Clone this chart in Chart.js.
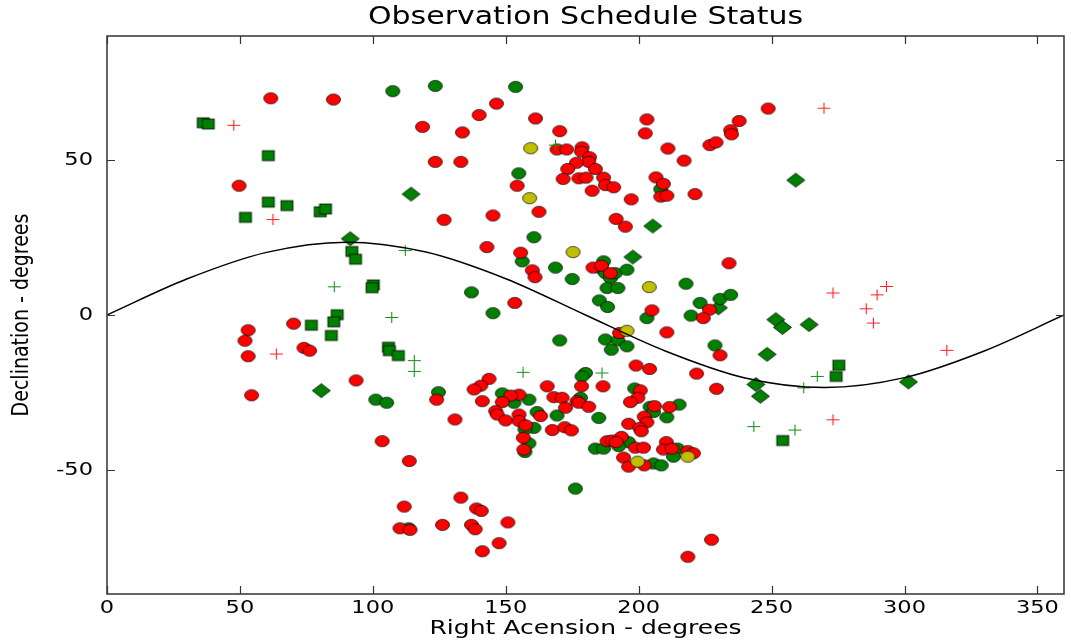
<!DOCTYPE html>
<html>
<head>
<meta charset="utf-8">
<script src="https://cdn.jsdelivr.net/npm/chart.js@4/dist/chart.umd.min.js"></script>
<style>
  body { margin: 0; background: #fff; }
  canvas { display: block; }
</style>
</head>
<body>
<canvas id="skyChart" width="1071" height="644"></canvas>
<script>
// Values: [right ascension, declination] in degrees
const redCircles = [
  [61.6,69.9],[85.2,69.5],[118.7,60.7],[49.7,41.7],
  [140.0,64.5],[146.5,68.2],[133.7,58.9],[123.5,49.4],[133.1,49.4],[161.2,63.4],[170.3,59.3],
  [154.3,41.7],[162.5,33.3],[145.2,32.1],[126.8,30.7],[191.5,31.0],[195.0,28.5],[203.1,63.1],
  [202.5,58.6],[211.0,53.7],[217.1,49.8],[221.2,39.0],[206.5,44.4],[209.3,42.3],[208.3,38.2],
  [210.6,38.5],[197.2,37.3],[226.8,54.8],[229.1,55.7],[234.6,59.6],[234.9,58.3],[237.8,62.6],
  [248.7,66.6],
  [169.3,53.4],[172.9,53.4],[178.7,54.1],[178.5,52.7],[181.5,50.9],[181.2,49.4],[176.6,49.1],
  [173.3,47.1],[183.7,47.1],[171.6,43.9],[177.5,44.1],[180.2,44.3],[186.8,44.3],[187.5,41.9],
  [190.6,41.2],[182.5,40.1],
  [142.9,21.9],[155.6,20.1],[160.0,14.4],[161.0,12.2],[182.8,15.3],[186.0,15.9],[189.4,13.5],
  [234.0,16.7],[153.4,3.9],[205.0,1.5],[226.6,1.7],[224.3,-1.0],[210.6,-5.6],[192.8,-5.8],
  [230.6,-13.0],
  [70.2,-2.8],[53.1,-4.9],[51.9,-8.3],[53.1,-13.3],[74.1,-10.6],[76.2,-11.5],[93.7,-21.1],
  [54.4,-25.9],
  [124.0,-27.3],[143.7,-20.6],[140.6,-22.8],[138.1,-24.0],[141.2,-27.8],[155.0,-25.7],[151.9,-26.0],
  [148.7,-28.1],[146.2,-31.0],[146.8,-32.1],[150.0,-34.0],[155.0,-32.1],[155.0,-34.2],[157.5,-35.6],
  [163.1,-32.6],[156.6,-39.6],[156.8,-43.4],[130.9,-33.7],[165.6,-23.0],[168.1,-26.5],[171.2,-26.7],
  [172.5,-29.9],[167.5,-37.1],[172.2,-36.2],[174.7,-37.2],[178.5,-23.0],[186.6,-23.0],[176.8,-27.8],
  [177.5,-28.3],[181.2,-29.6],[188.1,-40.7],
  [199.0,-16.3],[204.1,-17.4],[221.8,-18.9],[229.3,-23.8],[200.6,-24.3],[199.7,-26.7],[196.9,-28.1],
  [206.0,-29.4],[211.6,-29.7],[202.1,-32.8],[203.1,-34.6],[196.2,-35.1],[200.4,-36.4],[201.0,-37.5],
  [193.5,-39.3],[190.0,-40.5],[191.5,-41.0],[198.7,-42.8],[201.8,-42.8],[194.3,-46.0],[196.2,-48.9],
  [202.1,-48.5],[210.4,-41.0],[209.3,-43.4],[212.5,-43.1],[218.5,-43.9],[220.6,-44.6],
  [133.1,-58.9],[139.0,-62.4],[140.8,-63.2],[126.2,-67.7],[137.1,-67.7],[138.5,-69.1],[150.8,-66.9],
  [147.5,-73.6],[141.2,-76.2],[227.4,-72.5],[218.5,-78.0],[103.5,-40.7],[113.7,-47.1],[111.8,-61.8],
  [110.2,-68.8],[114.0,-69.3]
];

const greenCircles = [
  [107.5,72.2],[123.5,73.9],[153.7,73.6],[154.9,45.7],[208.3,40.6],[101.1,-27.3],[105.2,-28.3],
  [160.6,25.1],[156.2,17.3],[168.7,15.3],[175.0,11.6],[137.1,7.3],[145.2,0.6],[186.8,17.3],
  [185.6,15.1],[187.5,13.5],[189.4,11.9],[191.2,13.5],[195.6,14.6],[188.1,8.7],[192.2,8.7],
  [185.2,4.7],[188.3,2.6],[217.8,10.1],[223.1,3.9],[230.6,5.2],[234.6,6.5],[219.7,-0.2],
  [203.1,-1.0],[170.3,-8.2],[187.5,-7.9],[192.2,-8.2],[189.7,-11.2],[195.6,-10.1],[228.7,-9.8],
  [124.7,-24.9],[148.7,-25.3],[153.1,-28.3],[158.7,-27.3],[160.6,-36.4],[161.8,-31.3],[157.2,-36.9],
  [158.7,-41.4],[157.2,-44.2],[169.3,-32.4],[180.0,-18.7],[178.7,-19.8],[178.1,-26.7],[185.0,-33.2],
  [183.7,-43.1],[186.8,-43.1],[198.5,-23.7],[204.3,-29.6],[205.6,-31.3],[215.2,-28.9],[210.6,-33.0],
  [196.2,-41.0],[192.5,-42.3],[205.6,-47.9],[208.5,-48.5],[214.7,-43.1],[213.1,-45.7],[176.2,-56.0],
  [113.5,-68.8]
];

const yellowCircles = [
  [159.4,53.8],[159.0,37.7],[175.3,20.3],[204.0,9.0],[195.6,-5.1],[199.6,-47.3],[218.5,-45.7]
];

const greenSquares = [
  [36.2,62.0],[38.1,61.6],[60.7,51.4],[52.1,31.5],[60.7,36.4],[67.7,35.3],[80.2,33.3],[82.2,34.2],
  [92.1,20.5],[93.5,18.0],[100.2,9.7],[99.7,8.8],[86.6,0.1],[85.3,-2.2],[76.9,-3.3],[84.4,-6.6],
  [105.9,-10.4],[106.2,-11.5],[109.6,-13.1],[275.3,-16.2],[274.3,-19.8],[254.2,-40.5]
];

const greenDiamonds = [
  [114.4,39.0],[205.3,28.7],[259.1,43.5],[91.5,24.6],[80.6,-24.4],[197.8,18.7],[230.0,2.3],
  [251.6,-1.5],[254.1,-4.0],[264.1,-3.1],[248.3,-12.7],[244.1,-22.4],[245.8,-26.2],[301.5,-21.6]
];

const redPlus = [
  [47.7,61.2],[62.4,30.8],[269.7,66.7],[63.7,-12.6],[273.1,7.1],[293.2,9.2],[289.7,6.5],
  [285.6,2.0],[288.3,-2.6],[315.9,-11.4],[273.1,-33.8]
];

const greenPlus = [
  [168.7,54.8],[112.2,20.8],[85.5,9.1],[107.1,-0.8],[115.6,-14.7],[115.6,-18.2],[156.5,-18.5],
  [186.2,-18.7],[267.2,-19.8],[262.1,-23.5],[243.3,-36.0],[258.8,-37.1]
];

// ecliptic curve, read every 30 degrees
const eclipticRA  = [0, 30, 60, 90, 120, 150, 180, 210, 240, 270, 300, 330, 360];
const eclipticDec = [0, 11.6, 20.2, 23.5, 20.3, 11.7, 0, -11.6, -20.3, -23.4, -20.2, -11.6, 0];

const xTicks = [0, 50, 100, 150, 200, 250, 300, 350];
const yTicks = [-50, 0, 50];

const STRETCH = 1.25; // the picture is a bit wider than tall

function toPoints(list) {
  return list.map(p => ({ x: p[0], y: p[1] }));
}

// small bitmaps used as point styles
function makeMarker(kind, color) {
  const c = document.createElement('canvas');
  const g = c.getContext('2d');
  if (kind === 'circle') {
    c.width = 17; c.height = 14;
    g.beginPath();
    g.ellipse(8.5, 7, 7, 5.6, 0, 0, Math.PI * 2);
    g.fillStyle = color; g.fill();
    g.lineWidth = 1; g.strokeStyle = 'rgba(0,0,0,0.7)'; g.stroke();
  } else if (kind === 'square') {
    c.width = 16; c.height = 14;
    g.fillStyle = color;
    g.fillRect(2, 2, 12, 10);
    g.lineWidth = 1; g.strokeStyle = 'rgba(0,0,0,0.75)';
    g.strokeRect(2, 2, 12, 10);
  } else if (kind === 'diamond') {
    c.width = 21; c.height = 17;
    g.beginPath();
    g.moveTo(10.5, 1.5); g.lineTo(19.5, 8.5); g.lineTo(10.5, 15.5); g.lineTo(1.5, 8.5);
    g.closePath();
    g.fillStyle = color; g.fill();
    g.lineWidth = 1; g.strokeStyle = 'rgba(0,0,0,0.75)'; g.stroke();
  } else {
    c.width = 15; c.height = 13;
    g.strokeStyle = color; g.lineWidth = 1.1;
    g.beginPath();
    g.moveTo(1, 6.5); g.lineTo(14, 6.5);
    g.moveTo(7.5, 1); g.lineTo(7.5, 12);
    g.stroke();
  }
  return c;
}

function stretchedText(ctx, text, x, y, size, align, vertical) {
  ctx.save();
  ctx.font = size + 'px "DejaVu Sans"';
  ctx.fillStyle = '#000';
  ctx.textAlign = align;
  ctx.textBaseline = 'middle';
  ctx.translate(x, y);
  if (vertical) {
    ctx.rotate(-Math.PI / 2);
    ctx.scale(1, STRETCH);
  } else {
    ctx.scale(STRETCH, 1);
  }
  ctx.fillText(text, 0, 0);
  ctx.restore();
}

const framePlugin = {
  id: 'frame',
  afterDraw(chart) {
    const { ctx, chartArea: a, scales } = chart;
    const tick = 8;
    ctx.save();
    ctx.strokeStyle = '#333';
    ctx.lineWidth = 1.5;
    ctx.strokeRect(a.left, a.top, a.right - a.left, a.bottom - a.top);
    ctx.lineWidth = 1.2;
    ctx.beginPath();
    xTicks.forEach(v => {
      const px = Math.round(scales.x.getPixelForValue(v)) + 0.5;
      ctx.moveTo(px, a.bottom); ctx.lineTo(px, a.bottom - tick);
      ctx.moveTo(px, a.top); ctx.lineTo(px, a.top + tick);
    });
    yTicks.forEach(v => {
      const py = Math.round(scales.y.getPixelForValue(v)) + 0.5;
      ctx.moveTo(a.left, py); ctx.lineTo(a.left + tick, py);
      ctx.moveTo(a.right, py); ctx.lineTo(a.right - tick, py);
    });
    ctx.stroke();
    ctx.restore();

    xTicks.forEach(v => {
      stretchedText(ctx, String(v), scales.x.getPixelForValue(v), a.bottom + 14, 18, 'center', false);
    });
    yTicks.forEach(v => {
      stretchedText(ctx, String(v), a.left - 14, scales.y.getPixelForValue(v), 18, 'right', false);
    });
    const midX = (a.left + a.right) / 2;
    stretchedText(ctx, 'Observation Schedule Status', midX, 18, 24, 'center', false);
    stretchedText(ctx, 'Right Acension - degrees', midX, 629, 20, 'center', false);
    stretchedText(ctx, 'Declination - degrees', 22, (a.top + a.bottom) / 2, 19, 'center', true);
  }
};

const ctx = document.getElementById('skyChart').getContext('2d');

const skyChart = new Chart(ctx, {
  type: 'scatter',
  data: {
    datasets: [
      {
        label: 'Ecliptic',
        data: eclipticRA.map((ra, i) => ({ x: ra, y: eclipticDec[i] })),
        showLine: true,
        borderColor: '#000',
        borderWidth: 1.5,
        pointRadius: 0,
        cubicInterpolationMode: 'monotone'
      },
      { label: 'red +', data: toPoints(redPlus), pointStyle: makeMarker('plus', '#ff2020'), pointRadius: 6 },
      { label: 'green +', data: toPoints(greenPlus), pointStyle: makeMarker('plus', '#1a8c1a'), pointRadius: 6 },
      { label: 'yellow', data: toPoints(yellowCircles), pointStyle: makeMarker('circle', '#bfbf00'), pointRadius: 6 },
      { label: 'red', data: toPoints(redCircles), pointStyle: makeMarker('circle', '#ff0000'), pointRadius: 6 },
      { label: 'green', data: toPoints(greenCircles), pointStyle: makeMarker('circle', '#008000'), pointRadius: 6 },
      { label: 'squares', data: toPoints(greenSquares), pointStyle: makeMarker('square', '#008000'), pointRadius: 6 },
      { label: 'diamonds', data: toPoints(greenDiamonds), pointStyle: makeMarker('diamond', '#008000'), pointRadius: 6 }
    ]
  },
  options: {
    responsive: false,
    animation: false,
    layout: { padding: { top: 36, right: 5, bottom: 0, left: 0 } },
    scales: {
      x: {
        type: 'linear',
        min: 0,
        max: 360,
        ticks: { display: false, stepSize: 50 },
        grid: { display: false },
        border: { display: false },
        afterFit: s => { s.height = 50; }
      },
      y: {
        type: 'linear',
        min: -90,
        max: 90,
        ticks: { display: false, stepSize: 50 },
        grid: { display: false },
        border: { display: false },
        afterFit: s => { s.width = 107; }
      }
    },
    plugins: {
      legend: { display: false },
      tooltip: { enabled: false }
    }
  },
  plugins: [framePlugin]
});
</script>
</body>
</html>
